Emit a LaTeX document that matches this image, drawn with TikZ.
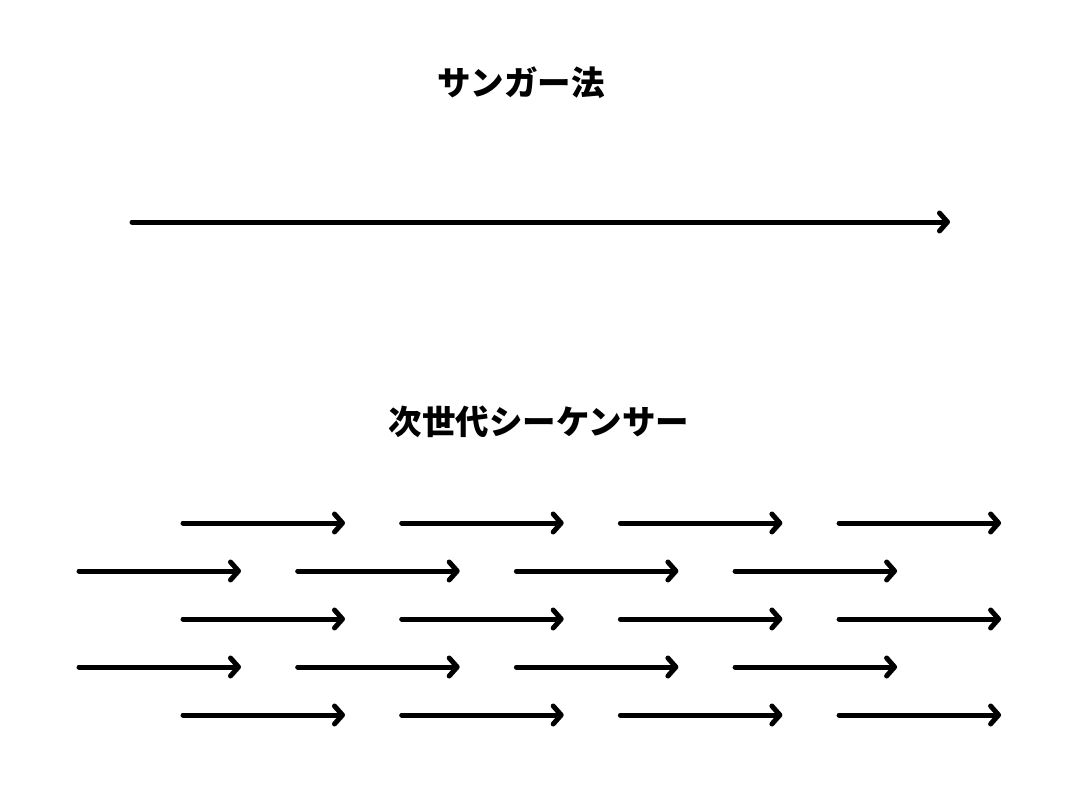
\documentclass[tikz,border=0pt]{standalone}
\usepackage{fontspec}
\newfontfamily\cjk{Noto Sans CJK JP}
\usetikzlibrary{arrows.meta}
\begin{document}
\begin{tikzpicture}[x=1pt,y=-1pt,
  readarrow/.style={line width=5pt,line cap=round,-{Straight Barb[length=8pt,width=18pt,round]}},
  titletext/.style={font=\cjk\bfseries\fontsize{33.5}{38}\selectfont,inner sep=0pt}]
\useasboundingbox[fill=white] (0,0) rectangle (1080,800);
\node[titletext] (t1) at (521,83) {サンガー法};
\node[titletext] (t2) at (539,422) {次世代シーケンサー};
\coordinate (a0) at (132,222);
\coordinate (b0) at (950,222);
\draw[readarrow] (a0) -- (b0);
\foreach \r/\y in {1/523,3/619,5/715}{
  \foreach \i in {0,1,2,3}{
    \coordinate (s\r\i) at ({183+218.7*\i},\y);
    \coordinate (e\r\i) at ({345+218.7*\i},\y);
    \draw[readarrow] (s\r\i) -- (e\r\i);
  }
}
\foreach \r/\y in {2/571,4/667}{
  \foreach \i in {0,1,2,3}{
    \coordinate (s\r\i) at ({79+218.7*\i},\y);
    \coordinate (e\r\i) at ({241+218.7*\i},\y);
    \draw[readarrow] (s\r\i) -- (e\r\i);
  }
}
\end{tikzpicture}
\end{document}
